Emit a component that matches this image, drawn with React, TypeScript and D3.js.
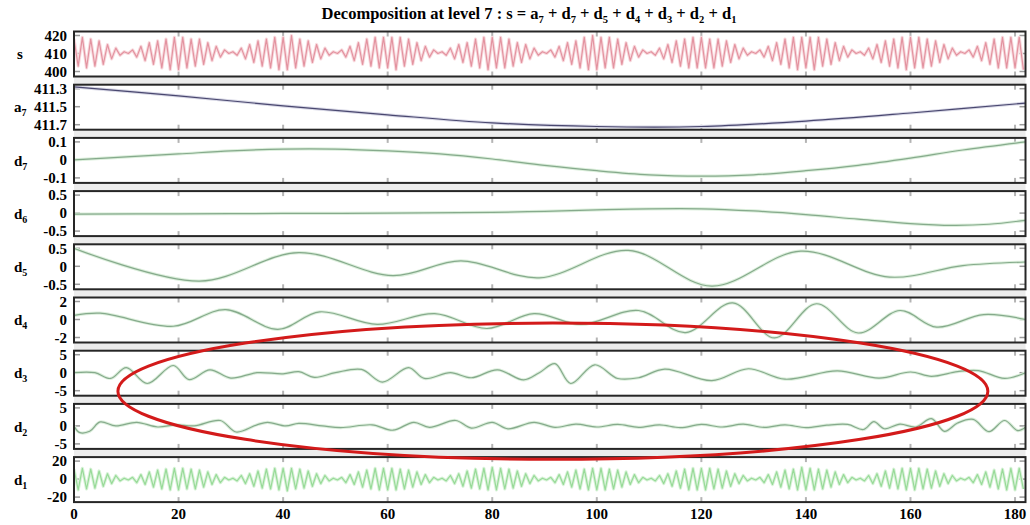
import * as d3 from 'd3';

const SERIF = '"Liberation Serif", "Times New Roman", serif';

const xTicks = [0, 20, 40, 60, 80, 100, 120, 140, 160, 180];
const sampleStep = 0.8;

// s : raw signal, one value every 0.8 on the x axis
const sValues = [
  418, 403, 419, 402, 418, 403, 417, 404, 415, 407, 413, 409, 411, 410, 412, 408, 414, 406, 416, 404, 417, 402, 418, 401, 419,
  401, 419, 402, 418, 403, 418, 404, 416, 406, 414, 408, 412, 410, 411, 409, 413, 407, 415, 405, 417, 403, 418, 402, 419, 401,
  419, 401, 420, 402, 418, 403, 417, 405, 415, 407, 413, 409, 411, 410, 412, 408, 414, 406, 416, 404, 418, 403, 419, 402, 419,
  402, 419, 401, 419, 403, 418, 404, 416, 406, 414, 408, 412, 410, 411, 409, 413, 407, 415, 405, 416, 403, 418, 402, 419, 401,
  419, 402, 419, 402, 418, 403, 416, 405, 415, 407, 413, 409, 411, 410, 412, 408, 414, 406, 416, 404, 417, 402, 419, 401, 420,
  401, 419, 402, 419, 402, 418, 404, 416, 406, 414, 408, 412, 410, 411, 409, 413, 407, 415, 405, 417, 403, 418, 402, 419, 402,
  419, 402, 418, 402, 418, 403, 417, 405, 415, 407, 413, 409, 411, 410, 412, 408, 414, 406, 416, 404, 418, 402, 419, 401, 419,
  402, 419, 401, 419, 403, 418, 404, 416, 406, 414, 408, 412, 410, 411, 409, 413, 407, 415, 405, 417, 403, 418, 402, 419, 401,
  419, 402, 419, 402, 418, 403, 417, 405, 415, 407, 413, 409, 411, 410, 412, 408, 414, 406, 416, 404, 418, 402, 419, 402, 419,
  402, 419, 401,
];

const d1Values = [
  11, -12, 12, -11, 11, -10, 9, -8, 6, -5, 4, -2, 1, -1, 2, -4, 5, -6, 8, -9, 10, -11, 11, -12, 12,
  -12, 12, -11, 11, -11, 10, -9, 8, -6, 5, -4, 2, -1, 1, -2, 4, -5, 6, -8, 9, -10, 11, -11, 12, -12,
  12, -13, 12, -11, 11, -10, 9, -8, 6, -5, 4, -2, 1, -1, 2, -4, 5, -6, 8, -9, 10, -11, 12, -12, 12,
  -12, 12, -12, 11, -11, 10, -9, 8, -6, 5, -4, 2, -1, 1, -2, 4, -5, 6, -8, 9, -10, 11, -11, 12, -12,
  13, -12, 12, -11, 11, -10, 9, -8, 6, -5, 4, -2, 1, -1, 2, -4, 5, -6, 8, -9, 10, -11, 11, -12, 12,
  -12, 12, -12, 11, -11, 10, -9, 8, -6, 5, -4, 2, -1, 1, -2, 4, -5, 6, -8, 9, -10, 11, -12, 12, -12,
  12, -12, 12, -11, 11, -10, 9, -8, 6, -5, 4, -2, 1, -1, 2, -4, 5, -6, 8, -9, 10, -11, 11, -12, 13,
  -12, 12, -12, 11, -11, 10, -9, 8, -6, 5, -4, 2, -1, 1, -2, 4, -5, 6, -8, 9, -10, 11, -11, 12, -12,
  12, -12, 12, -11, 11, -10, 9, -8, 6, -5, 4, -2, 1, -1, 2, -4, 5, -6, 8, -9, 10, -11, 11, -12, 12,
  -12, 12, -11,
];
const sampleX = sValues.map((_, i) => i * sampleStep);

const a7X = [0, 20, 40, 60, 80, 100, 120, 140, 160, 182];
const a7V = [411.28, 411.38, 411.49, 411.59, 411.68, 411.72, 411.72, 411.66, 411.57, 411.46];

const d7X = [0, 10, 20, 30, 40, 50, 60, 70, 80, 90, 100, 110, 120, 130, 140, 150, 160, 170, 182];
const d7V = [0, 0.017, 0.033, 0.05, 0.06, 0.06, 0.05, 0.033, 0.005, -0.03, -0.06, -0.083, -0.09, -0.083, -0.06, -0.03, 0.01, 0.055, 0.1];

const d6X = [0, 20, 40, 60, 80, 90, 100, 110, 120, 130, 140, 150, 160, 168, 175, 182];
const d6V = [-0.03, -0.02, -0.01, 0, 0.02, 0.05, 0.09, 0.12, 0.12, 0.06, -0.04, -0.17, -0.29, -0.34, -0.31, -0.2];

const d5X = [0, 24, 43, 61, 74, 89, 106, 122, 139, 156, 170, 182];
const d5V = [0.5, -0.41, 0.38, -0.26, 0.15, -0.32, 0.44, -0.55, 0.42, -0.3, 0.02, 0.12];

const d4X = [0, 5, 19, 29, 39, 47, 58, 69, 79, 88, 97, 108, 117, 126, 134, 142, 150, 158, 165, 174, 182];
const d4V = [0.45, 0.7, -0.75, 1.1, -1.1, 0.85, -0.55, 0.65, -1.0, 0.65, -0.55, 1.0, -1.45, 1.85, -2.05, 1.75, -1.5, 1.0, -0.85, 0.55, 0];

const d3X = [0, 4, 7, 10, 14, 19, 22, 26, 30, 35, 40, 43, 46, 50, 55, 59, 64, 67, 72, 76, 81, 86, 89, 92, 95, 99.6, 104, 108, 113, 122, 129, 136, 146, 154, 160, 164, 169, 173, 178, 182];
const d3V = [0, 0, -1.6, 1.4, -3, 2, -1.9, 0.8, -1.5, 0, -0.3, 0.3, -1.3, 0, 0.9, -2.6, 1.4, -1.6, 0, -1.4, 0.8, -2, 0, 2.5, -3, 2.2, -1.6, -1.4, 1, -2.2, 1.1, -1.8, 0.5, -1.5, 0.2, -1, 0.3, 0.6, -1.6, 0];

const d2X = [0, 1, 3, 5, 8, 12, 16, 19.5, 23, 28, 31, 35, 37, 40.5, 43, 47.5, 51, 57, 61, 65, 68, 73, 76, 80, 83, 88, 92, 96, 100, 104, 108, 112, 116, 120, 124, 128, 132, 136, 140, 144, 148, 151, 153, 155, 158, 161, 164, 166.5, 169, 172, 175, 178, 180.5, 182];
const d2V = [0, -1.8, -1.5, 1.1, 0, 1, -0.3, 0.3, 0, 1.5, -1.7, 0.3, 1, 0, 0.7, 0, -0.5, 0.3, -1.2, 1, -0.4, 1.5, -0.6, 1, -0.8, 1, -0.4, 0.5, -0.3, 0.4, -0.4, 0.3, -0.5, 0.4, -0.3, 0.5, -0.4, 0.3, -0.5, 0.2, 0.4, -1, 1.2, -0.8, 0.5, -0.3, 2, -1.5, 0.8, 1.8, -1.6, 1.5, -1.3, -0.4];

const sTicks = [420, 410, 400];
const a7Ticks = [411.3, 411.5, 411.7];
const d7Ticks = [0.1, 0, -0.1];
const d6Ticks = [0.5, 0, -0.5];
const d5Ticks = [0.5, 0, -0.5];
const d4Ticks = [2, 0, -2];
const d3Ticks = [5, 0, -5];
const d2Ticks = [5, 0, -5];
const d1Ticks = [20, 0, -20];

const titleParts: [string, string][] = [
  ['Decomposition at level 7 : s = a', '7'],
  [' + d', '7'],
  [' + d', '5'],
  [' + d', '4'],
  [' + d', '3'],
  [' + d', '2'],
  [' + d', '1'],
];

// annotation ring (data x on the left/right, values on d4 / d1 panels)
const ringLeftX = 8.4;
const ringRightX = 174.8;
const ringTopD4 = -0.4;
const ringBottomD1 = 22;

type Panel = {
  name: string;
  sub: string;
  ticks: number[];
  top: number; // value at the upper tick
  bottom: number; // value at the lower tick
  xs: number[];
  vs: number[];
  color: string;
  halo: string;
  smooth: boolean;
};

const GREEN = '#86aa8c';
const GREEN_HALO = '#dcefdc';

const panels: Panel[] = [
  { name: 's', sub: '', ticks: sTicks, top: 420, bottom: 400, xs: sampleX, vs: sValues, color: '#e393a0', halo: '#f8dade', smooth: false },
  { name: 'a', sub: '7', ticks: a7Ticks, top: 411.3, bottom: 411.7, xs: a7X, vs: a7V, color: '#4a4870', halo: '#d8d8e6', smooth: true },
  { name: 'd', sub: '7', ticks: d7Ticks, top: 0.1, bottom: -0.1, xs: d7X, vs: d7V, color: GREEN, halo: GREEN_HALO, smooth: true },
  { name: 'd', sub: '6', ticks: d6Ticks, top: 0.5, bottom: -0.5, xs: d6X, vs: d6V, color: GREEN, halo: GREEN_HALO, smooth: true },
  { name: 'd', sub: '5', ticks: d5Ticks, top: 0.5, bottom: -0.5, xs: d5X, vs: d5V, color: GREEN, halo: GREEN_HALO, smooth: true },
  { name: 'd', sub: '4', ticks: d4Ticks, top: 2, bottom: -2, xs: d4X, vs: d4V, color: GREEN, halo: GREEN_HALO, smooth: true },
  { name: 'd', sub: '3', ticks: d3Ticks, top: 5, bottom: -5, xs: d3X, vs: d3V, color: GREEN, halo: GREEN_HALO, smooth: true },
  { name: 'd', sub: '2', ticks: d2Ticks, top: 5, bottom: -5, xs: d2X, vs: d2V, color: GREEN, halo: GREEN_HALO, smooth: true },
  { name: 'd', sub: '1', ticks: d1Ticks, top: 20, bottom: -20, xs: sampleX, vs: d1Values, color: '#98da98', halo: '#d9f3d9', smooth: false },
];

export default function App() {
  const width = 1030;
  const height = 525;
  const x = d3.scaleLinear().domain([0, 182]).range([74, 1025.5]);
  const x0 = x(0);
  const x1 = x(182);
  const firstTop = 31.5;
  const panelH = 45;
  const pitch = 53.2;

  const laid = panels.map((p, i) => {
    const top = firstTop + i * pitch;
    const bottom = top + panelH;
    const y = d3.scaleLinear().domain([p.bottom, p.top]).range([bottom - 5, top + 4]);
    const line = d3
      .line<number>()
      .x((_, k) => x(p.xs[k]))
      .y(v => y(v))
      .curve(p.smooth ? d3.curveCatmullRom.alpha(0.5) : d3.curveLinear);
    return { ...p, top, bottom, y, d: line(p.vs) || '' };
  });

  const ringTop = laid[5].y(ringTopD4);
  const ringBottom = laid[8].y(ringBottomD1);
  const ringCx = (x(ringLeftX) + x(ringRightX)) / 2;
  const ringRx = (x(ringRightX) - x(ringLeftX)) / 2;

  return (
    <svg
      width={width}
      height={height}
      style={{ position: 'fixed', left: 0, top: 0, background: '#fff' }}
      fontFamily={SERIF}
      fontWeight="bold"
    >
      <defs>
        {laid.map((p, i) => (
          <clipPath id={`clip-${i}`} key={i}>
            <rect x={x0} y={p.top} width={x1 - x0} height={panelH} />
          </clipPath>
        ))}
      </defs>

      <text x={529} y={19} textAnchor="middle" fontSize={16.5}>
        {titleParts.map(([t, s], i) => (
          <tspan key={i}>
            {t}
            <tspan fontSize={10.5} dy={3.5}>{s}</tspan>
            <tspan dy={-3.5}> </tspan>
          </tspan>
        ))}
      </text>

      <rect x={x0} y={laid[0].top} width={x1 - x0} height={laid[8].bottom - laid[0].top} fill="#ececec" />

      {laid.map((p, i) => (
        <g key={i}>
          <rect x={x0} y={p.top} width={x1 - x0} height={panelH} fill="#fff" />
          {xTicks.slice(1).map(t => (
            <g key={t} stroke="#b4b4b4" strokeWidth={2}>
              <line x1={x(t)} x2={x(t)} y1={p.top} y2={p.top + 5} />
              <line x1={x(t)} x2={x(t)} y1={p.bottom} y2={p.bottom - 5} />
            </g>
          ))}
          {p.ticks.map(t => (
            <g key={t} stroke="#9a9a9a" strokeWidth={1.5}>
              <line x1={x0} x2={x0 + 6} y1={p.y(t)} y2={p.y(t)} />
              <line x1={x1} x2={x1 - 6} y1={p.y(t)} y2={p.y(t)} />
            </g>
          ))}
          <g clipPath={`url(#clip-${i})`} fill="none">
            <path d={p.d} stroke={p.halo} strokeWidth={3.2} strokeLinejoin="round" />
            <path d={p.d} stroke={p.color} strokeWidth={1.2} strokeLinejoin="round" />
          </g>
          <rect x={x0} y={p.top} width={x1 - x0} height={panelH} fill="none" stroke="#262626" strokeWidth={2} />
          {p.ticks.map(t => (
            <text key={t} x={67} y={p.y(t)} dy="0.35em" textAnchor="end" fontSize={15}>
              {t}
            </text>
          ))}
          <text x={p.sub ? 14 : 17} y={(p.top + p.bottom) / 2} dy="0.35em" fontSize={15}>
            {p.name}
            {p.sub && (
              <tspan fontSize={10} dy={4}>
                {p.sub}
              </tspan>
            )}
          </text>
        </g>
      ))}

      {xTicks.map(t => (
        <text key={t} x={x(t)} y={519} textAnchor="middle" fontSize={15}>
          {t}
        </text>
      ))}

      <ellipse
        cx={ringCx}
        cy={(ringTop + ringBottom) / 2}
        rx={ringRx}
        ry={(ringBottom - ringTop) / 2}
        fill="none"
        stroke="#d31a1a"
        strokeWidth={3}
      />
    </svg>
  );
}
